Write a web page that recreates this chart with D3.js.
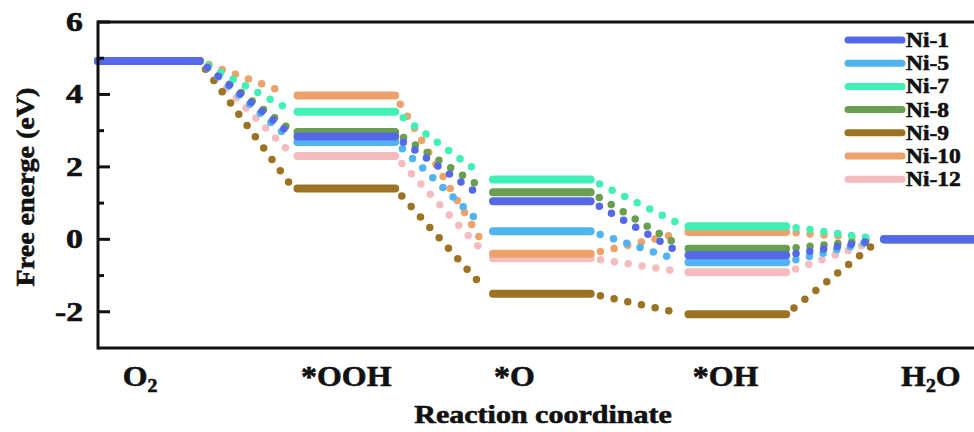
<!DOCTYPE html>
<html>
<head>
<meta charset="utf-8">
<script src="https://cdn.jsdelivr.net/npm/d3@7"></script>
<style>
  html, body { margin: 0; padding: 0; background: #fff; }
  #chart { width: 974px; height: 432px; }
  text { font-family: "Liberation Serif", "Times New Roman", serif; font-weight: bold; fill: #111; stroke: #111; stroke-width: 0.6px; }
</style>
</head>
<body>
<div id="chart"></div>
<script>
// Reaction steps (x categories)
const steps = ["O2", "*OOH", "*O", "*OH", "H2O"];
// where each step label sits, in step units
const labelPos = [0.215, 1.27, 2.13, 3.21, 4.26];

// Free energy (eV) for each catalyst at each step
const ni1 = [4.92, 2.84, 1.05, -0.44, 0];
const ni5 = [4.92, 2.69, 0.22, -0.63, 0];
const ni7 = [4.92, 3.52, 1.65, 0.36, 0];
const ni8 = [4.92, 2.96, 1.30, -0.26, 0];
const ni9 = [4.92, 1.40, -1.50, -2.07, 0];
const ni10 = [4.92, 3.97, -0.40, 0.20, 0];
const ni12 = [4.92, 2.30, -0.52, -0.91, 0];

const seriesNames = ["Ni-1", "Ni-5", "Ni-7", "Ni-8", "Ni-9", "Ni-10", "Ni-12"];
const seriesValues = [ni1, ni5, ni7, ni8, ni9, ni10, ni12];
const seriesColors = ["#5568e8", "#50b4f2", "#40f0b6", "#68a04f", "#9c7322", "#eda26b", "#f5bcc0"];

// y axis ticks
const majorTicks = [-2, 0, 2, 4, 6];
const minorTicks = [-1, 1, 3, 5];

(function () {
    const W = 974, H = 432;
    const left = 98, top = 22, bottom = 348;
    const levelWidth = 0.52; // fraction of one step taken by the flat level

    const svg = d3.select("#chart").append("svg")
        .attr("width", W)
        .attr("height", H);

    const x = d3.scaleLinear().domain([0, 5]).range([left, left + 5 * 195.5]);
    const y = d3.scaleLinear().domain([-3, 6]).range([bottom, top]);

    const series = seriesNames.map((name, i) => ({
        name: name,
        color: seriesColors[i],
        values: seriesValues[i]
    }));

    // draw Ni-12 first so Ni-1 ends on top
    const drawOrder = series.slice().reverse();

    const plot = svg.append("g");

    // dotted connectors between levels
    drawOrder.forEach(s => {
        for (let i = 0; i < s.values.length - 1; i++) {
            const x1 = x(i + levelWidth), y1 = y(s.values[i]);
            const x2 = x(i + 1), y2 = y(s.values[i + 1]);
            const len = Math.hypot(x2 - x1, y2 - y1);
            const ux = (x2 - x1) / len, uy = (y2 - y1) / len;
            const a = 10, b = 8;
            plot.append("line")
                .attr("x1", x1 + ux * a).attr("y1", y1 + uy * a)
                .attr("x2", x2 - ux * b).attr("y2", y2 - uy * b)
                .attr("stroke", s.color)
                .attr("stroke-width", 7.5)
                .attr("stroke-linecap", "round")
                .attr("stroke-dasharray", "0 14");
        }
    });

    // flat energy levels
    drawOrder.forEach(s => {
        plot.selectAll(null)
            .data(s.values)
            .enter()
            .append("line")
            .attr("x1", (d, i) => x(i) + (i === 0 ? 0 : 4))
            .attr("x2", (d, i) => x(i + levelWidth))
            .attr("y1", d => y(d))
            .attr("y2", d => y(d))
            .attr("stroke", s.color)
            .attr("stroke-width", 8)
            .attr("stroke-linecap", "round");
    });

    // frame: left axis, top and bottom lines
    const frame = svg.append("g").attr("stroke", "#111").attr("stroke-width", 3);
    frame.append("line").attr("x1", left).attr("x2", left).attr("y1", top - 1.5).attr("y2", bottom + 1.5);
    frame.append("line").attr("x1", left).attr("x2", W).attr("y1", top).attr("y2", top);
    frame.append("line").attr("x1", left).attr("x2", W).attr("y1", bottom).attr("y2", bottom);

    // y ticks pointing inward
    frame.selectAll(".major")
        .data(majorTicks)
        .enter()
        .append("line")
        .attr("x1", left).attr("x2", left + 12)
        .attr("y1", d => y(d)).attr("y2", d => y(d));
    frame.selectAll(".minor")
        .data(minorTicks)
        .enter()
        .append("line")
        .attr("x1", left).attr("x2", left + 6)
        .attr("y1", d => y(d)).attr("y2", d => y(d));

    // helper: horizontally stretched text
    function stretched(g, px, py, sx, size, anchor, rot) {
        const t = g.append("g")
            .attr("transform", `translate(${px},${py}) rotate(${rot || 0}) scale(${sx},1)`)
            .append("text")
            .attr("text-anchor", anchor)
            .attr("font-size", size);
        return t;
    }

    // y tick labels
    majorTicks.forEach(v => {
        stretched(svg, 83, y(v) + 9, 1.25, 27, "end").text(v);
    });

    // y title
    stretched(svg, 34, 187, 1.1, 25.5, "middle", -90).text("Free energe (eV)");

    // x category labels with subscripts
    steps.forEach((s, i) => {
        const t = stretched(svg, x(labelPos[i]), 386, 1.1, 29, "middle");
        const m = s.match(/^([A-Z])(\d)(.*)$/);
        if (m) {
            t.append("tspan").text(m[1]);
            t.append("tspan").attr("font-size", 18).attr("dy", 6).text(m[2]);
            if (m[3]) t.append("tspan").attr("dy", -6).text(m[3]);
        } else {
            t.text(s);
        }
    });

    // x title
    stretched(svg, 543, 423, 1.2, 25, "middle").text("Reaction coordinate");

    // legend
    const legend = svg.append("g");
    series.forEach((s, i) => {
        const ly = 40 + i * 23.2;
        legend.append("line")
            .attr("x1", 848).attr("x2", 902)
            .attr("y1", ly).attr("y2", ly)
            .attr("stroke", s.color)
            .attr("stroke-width", 7)
            .attr("stroke-linecap", "round");
        stretched(legend, 906, ly + 7, 1.12, 21, "start").text(s.name);
    });
})();
</script>
</body>
</html>
